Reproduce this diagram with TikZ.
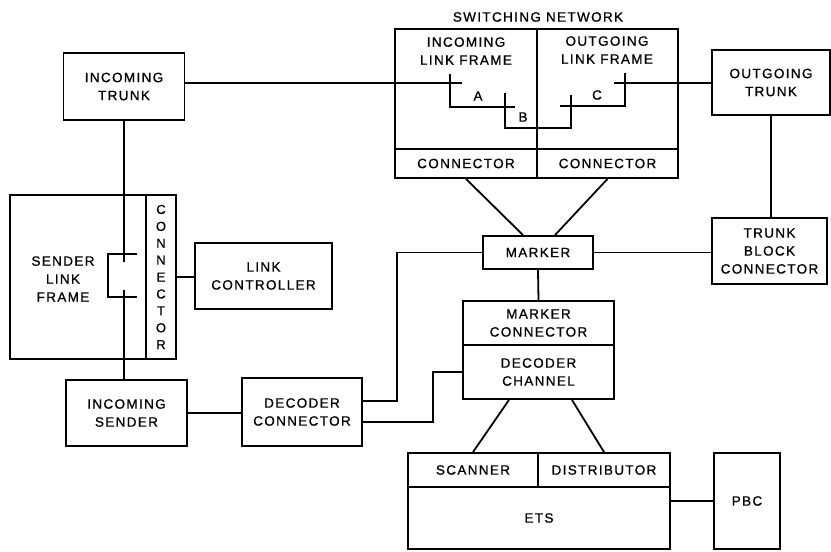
\documentclass[tikz,border=0pt]{standalone}
\usepackage{fontspec}
\setmainfont{Liberation Sans}[LetterSpace=10,FakeBold=0.8]
\begin{document}
\begin{tikzpicture}[x=1pt,y=-1pt,line width=1.8pt,
    blk/.style={draw,line width=1.9pt,align=center,inner sep=0pt},
    txt/.style={align=center,inner sep=0pt},
    xpt/.style={line width=1.4pt},
    font=\fontsize{13.5}{18}\selectfont]
  \useasboundingbox (0,0) rectangle (831,552);
  % switching network
  \node[txt] (swnet) at (538,17) {SWITCHING NETWORK};
  \node[blk,minimum width=142pt,minimum height=120pt] (inlink) at (466,89) {};
  \node[blk,minimum width=141pt,minimum height=120pt] (outlink) at (607.5,89) {};
  \node[txt] (inlinktxt) at (466,51) {INCOMING\\LINK FRAME};
  \node[txt] (outlinktxt) at (607,50) {OUTGOING\\LINK FRAME};
  \node[blk,minimum width=142pt,minimum height=29pt] (conL) at (466,163.5) {CONNECTOR};
  \node[blk,minimum width=141pt,minimum height=29pt] (conR) at (607.5,163.5) {CONNECTOR};
  % trunks
  \node[blk,minimum width=121pt,minimum height=67pt] (intrunk) at (124,86.5) {INCOMING\\TRUNK};
  \node[blk,minimum width=118pt,minimum height=65pt] (outtrunk) at (771,82.5) {OUTGOING\\TRUNK};
  \node[blk,minimum width=115pt,minimum height=66pt] (tbc) at (769.5,251) {TRUNK\\BLOCK\\CONNECTOR};
  % sender side
  \node[blk,minimum width=136pt,minimum height=164pt] (slf) at (78,277) {};
  \node[txt] (slftxt) at (63,279) {SENDER\\LINK\\FRAME};
  \node[blk,minimum width=30pt,minimum height=164pt,
    font=\fontsize{13}{16.9}\selectfont] (slfcon) at (161,277) {C\\O\\N\\N\\E\\C\\T\\O\\R};
  \node[blk,minimum width=137pt,minimum height=66pt] (linkctl) at (263.5,276) {LINK\\CONTROLLER};
  \node[blk,minimum width=121pt,minimum height=66pt] (insender) at (126.5,413) {INCOMING\\SENDER};
  \node[blk,minimum width=120pt,minimum height=68pt] (deccon) at (302,412) {DECODER\\CONNECTOR};
  % marker side
  \node[blk,minimum width=110pt,minimum height=33pt] (marker) at (538,252.5) {MARKER};
  \node[blk,minimum width=151pt,minimum height=44pt] (markcon) at (538.5,323) {MARKER\\CONNECTOR};
  \node[blk,minimum width=151pt,minimum height=54pt] (decchan) at (538.5,372) {DECODER\\CHANNEL};
  \node[blk,minimum width=130pt,minimum height=34pt] (scanner) at (473,470) {SCANNER};
  \node[blk,minimum width=132pt,minimum height=34pt] (distrib) at (604,470) {DISTRIBUTOR};
  \node[blk,minimum width=262pt,minimum height=62pt] (ets) at (539,518) {ETS};
  \node[blk,minimum width=66pt,minimum height=96pt] (pbc) at (747,501) {PBC};

  % crosspoints in the switching network
  \coordinate (ina) at (462,83);
  \coordinate (outc) at (614,83);
  \draw (ina -| intrunk.east) -- (ina);
  \draw[xpt] (450,74) -- (450,107) -- (515,107);
  \draw[xpt] (505,93) -- (505,128) -- (571,128) -- (571,95);
  \draw[xpt] (560,106) -- (625,106) -- (625,73);
  \draw (outc) -- (outc -| outtrunk.west);
  \node[txt] (lblA) at (478,96) {A};
  \node[txt] (lblB) at (523,117) {B};
  \node[txt] (lblC) at (597,95) {C};

  % crosspoints in the sender link frame
  \coordinate (sa) at (124,262);
  \coordinate (sb) at (124,290);
  \draw (intrunk.south) -- (sa);
  \draw[xpt] (137,254) -- (108,254) -- (108,297) -- (137,297);
  \draw (sb) -- (sb |- insender.north);

  % links
  \draw (slfcon.east) -- (slfcon.east -| linkctl.west);
  \draw (insender.east) -- (insender.east -| deccon.west);
  \draw ([yshift=11pt]deccon.east) -- ++(34,0) |- (marker.west);
  \draw ([yshift=-10pt]deccon.east) -- ++(70,0) |- (decchan.west);
  \draw (conL.south) -- ([xshift=-15pt]marker.north);
  \draw (conR.south) -- ([xshift=17pt]marker.north);
  \draw (marker.south) -- (markcon.north);
  \draw (marker.east) -- (marker.east -| tbc.west);
  \draw (outtrunk.south) -- (outtrunk.south |- tbc.north);
  \draw ([xshift=-29.5pt]decchan.south) -- (scanner.north);
  \draw ([xshift=33.5pt]decchan.south) -- (distrib.north);
  \draw (pbc.west) -- (pbc.west -| ets.east);
\end{tikzpicture}
\end{document}
